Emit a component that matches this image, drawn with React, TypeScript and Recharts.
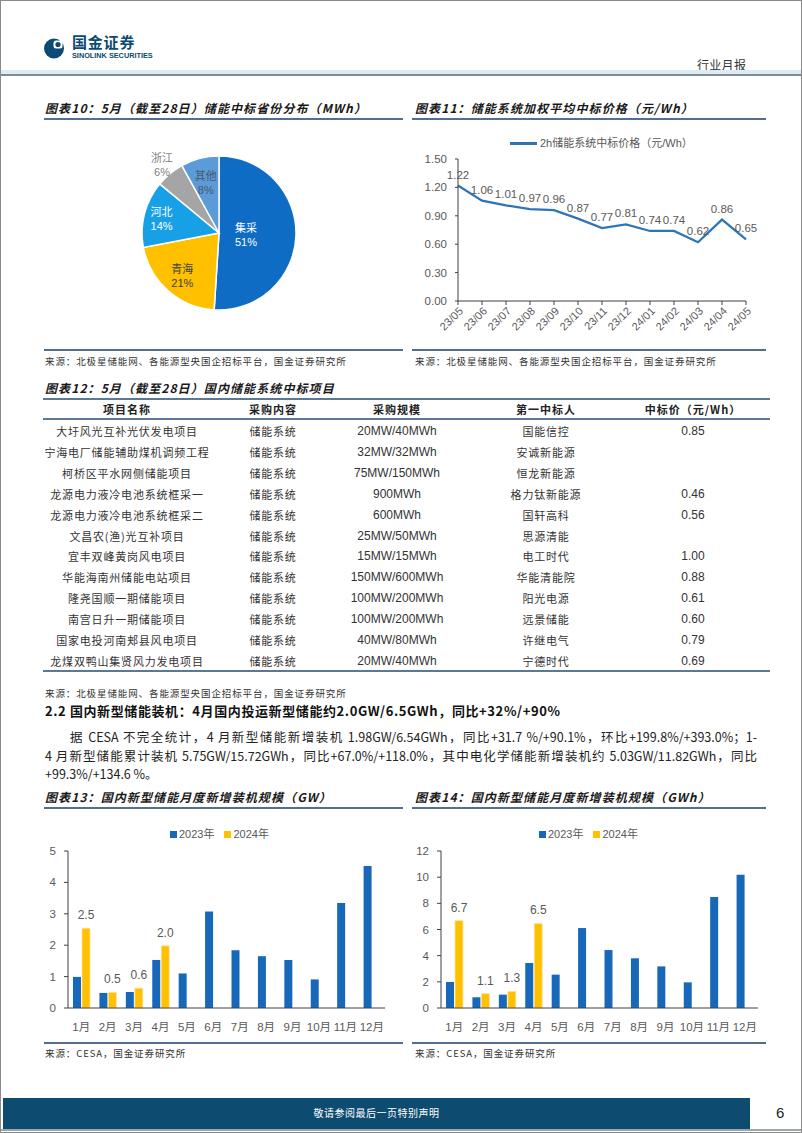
import React from 'react';
import { PieChart, Pie, Cell, LineChart, Line, XAxis, YAxis, LabelList, BarChart, Bar } from 'recharts';

// ---------- data ----------
const pieNames = ['集采', '青海', '河北', '浙江', '其他'];
const pieValues = [51, 21, 14, 6, 8];

const priceMonths = ['23/05', '23/06', '23/07', '23/08', '23/09', '23/10', '23/11', '23/12', '24/01', '24/02', '24/03', '24/04', '24/05'];
const priceValues = [1.22, 1.06, 1.01, 0.97, 0.96, 0.87, 0.77, 0.81, 0.74, 0.74, 0.62, 0.86, 0.65];
const priceTicks = [0, 0.3, 0.6, 0.9, 1.2, 1.5];

const months = ['1月', '2月', '3月', '4月', '5月', '6月', '7月', '8月', '9月', '10月', '11月', '12月'];
const gw2023 = [0.99, 0.48, 0.51, 1.53, 1.1, 3.07, 1.84, 1.65, 1.53, 0.91, 3.34, 4.52];
const gw2024 = [2.54, 0.5, 0.63, 1.98];
const gwTicks = [0, 1, 2, 3, 4, 5];
const gwh2023 = [1.99, 0.82, 1.02, 3.44, 2.55, 6.11, 4.43, 3.8, 3.18, 1.96, 8.48, 10.19];
const gwh2024 = [6.68, 1.1, 1.27, 6.46];
const gwhTicks = [0, 2, 4, 6, 8, 10, 12];

const tableHeaders = ['项目名称', '采购内容', '采购规模', '第一中标人', '中标价（元/Wh）'];
const projectNames = ['大圩风光互补光伏发电项目', '宁海电厂储能辅助煤机调频工程', '柯桥区平水网侧储能项目', '龙源电力液冷电池系统框采一', '龙源电力液冷电池系统框采二', '文昌农(渔)光互补项目', '宜丰双峰黄岗风电项目', '华能海南州储能电站项目', '隆尧国顺一期储能项目', '南宫日升一期储能项目', '国家电投河南郏县风电项目', '龙煤双鸭山集贤风力发电项目'];
const purchaseContent = ['储能系统', '储能系统', '储能系统', '储能系统', '储能系统', '储能系统', '储能系统', '储能系统', '储能系统', '储能系统', '储能系统', '储能系统'];
const purchaseScale = ['20MW/40MWh', '32MW/32MWh', '75MW/150MWh', '900MWh', '600MWh', '25MW/50MWh', '15MW/15MWh', '150MW/600MWh', '100MW/200MWh', '100MW/200MWh', '40MW/80MWh', '20MW/40MWh'];
const winners = ['国能信控', '安诚新能源', '恒龙新能源', '格力钛新能源', '国轩高科', '思源清能', '电工时代', '华能清能院', '阳光电源', '远景储能', '许继电气', '宁德时代'];
const winPrices = ['0.85', '', '', '0.46', '0.56', '', '1.00', '0.88', '0.61', '0.60', '0.79', '0.69'];

// ---------- styles ----------
const pieColors = ['#0F6CC4', '#FFC000', '#17A0E6', '#A5A5A5', '#5B9BD8'];
const pieLabelColors = ['#ffffff', '#404040', '#ffffff', '#7f7f7f', '#4a5868'];
const pieLabelRadius = [0.35, 0.72, 0.77, 1.16, 0.69];
const BLUE = '#1868BA';
const YELLOW = '#FFC000';
const LINE_BLUE = '#2E75B6';
const RULE = '#52708D';
const CJK = "'Noto Sans CJK SC', 'Noto Sans', sans-serif";
const NUM = "'Liberation Sans', 'Noto Sans CJK SC', sans-serif";

const pieData = pieNames.map((n, i) => ({ name: n, value: pieValues[i] }));
const priceData = priceMonths.map((m, i) => ({ month: m, price: priceValues[i] }));
const gwData = months.map((m, i) => ({ month: m, y2023: gw2023[i], y2024: i < gw2024.length ? gw2024[i] : null }));
const gwhData = months.map((m, i) => ({ month: m, y2023: gwh2023[i], y2024: i < gwh2024.length ? gwh2024[i] : null }));

const abs = (x: number, y: number, extra: React.CSSProperties = {}): React.CSSProperties => ({
  position: 'absolute', left: x, top: y, whiteSpace: 'nowrap', ...extra,
});

function Title({ x, y, text }: { x: number; y: number; text: string }) {
  return (
    <div style={abs(x, y - 8, { fontSize: 12, lineHeight: '16px', fontWeight: 700, fontStyle: 'italic', letterSpacing: 1.1, color: '#1a1a1a', fontFamily: CJK })}>
      {text}
    </div>
  );
}
function Rule({ x1, x2, y, w = 1.5, color = RULE }: { x1: number; x2: number; y: number; w?: number; color?: string }) {
  return <div style={{ position: 'absolute', left: x1, top: y - w / 2, width: x2 - x1, height: w, background: color }} />;
}
function Source({ x, y, text }: { x: number; y: number; text: string }) {
  return (
    <div style={abs(x, y - 7, { fontSize: 9.5, lineHeight: '14px', letterSpacing: 0.9, color: '#333', fontFamily: CJK })}>{text}</div>
  );
}

const RAD = Math.PI / 180;
function pieLabel(props: any) {
  const { cx, cy, midAngle, outerRadius, name } = props;
  const i = pieNames.indexOf(name ?? props.payload?.name);
  const r = outerRadius * pieLabelRadius[i];
  const x = cx + r * Math.cos(-midAngle * RAD);
  const y = cy + r * Math.sin(-midAngle * RAD);
  return (
    <text x={x} y={y} textAnchor="middle" fill={pieLabelColors[i]} fontSize={11} fontFamily={NUM}>
      <tspan x={x} dy={-2}>{pieNames[i]}</tspan>
      <tspan x={x} dy={14}>{pieValues[i]}%</tspan>
    </text>
  );
}

function RotTick(props: any) {
  const { x, y, payload } = props;
  return (
    <g transform={`translate(${x + 3},${y + 2})`}>
      <text x={0} y={0} dy="0.35em" textAnchor="end" transform="rotate(-45)" fill="#595959" fontSize={11} fontFamily={NUM}>
        {payload.value}
      </text>
    </g>
  );
}

function Bars({ data, ticks, max, yWidth, right }: { data: any[]; ticks: number[]; max: number; yWidth: number; right: number }) {
  return (
    <BarChart width={360} height={200} data={data} margin={{ top: 11, right, left: 0, bottom: 0 }} barSize={8} barGap={1}>
      <XAxis dataKey="month" interval={0} height={32} axisLine={{ stroke: '#404040' }} tickLine={false}
        tick={{ fill: '#595959', fontSize: 11.5, fontFamily: NUM }} tickMargin={9} />
      <YAxis domain={[0, max]} ticks={ticks} width={yWidth} axisLine={{ stroke: '#404040' }}
        tickLine={{ stroke: '#404040' }} tickSize={4} tickMargin={8}
        tick={{ fill: '#595959', fontSize: 11.5, fontFamily: NUM }} />
      <Bar dataKey="y2023" fill={BLUE} isAnimationActive={false} />
      <Bar dataKey="y2024" fill={YELLOW} stroke="#FBE3A8" strokeWidth={0.8} isAnimationActive={false}>
        <LabelList dataKey="y2024" position="top" offset={9} fill="#595959" fontSize={12} fontFamily={NUM}
          formatter={(v: any) => (v == null ? '' : Number(v).toFixed(1))} />
      </Bar>
    </BarChart>
  );
}

function BarLegend({ cx, y }: { cx: number; y: number }) {
  return (
    <div style={abs(cx - 52, y - 8, { display: 'flex', alignItems: 'center', fontSize: 11, lineHeight: '16px', color: '#595959', fontFamily: NUM })}>
      <span style={{ width: 7, height: 7, background: BLUE, display: 'inline-block', marginRight: 2 }} />
      <span style={{ marginRight: 10 }}>2023年</span>
      <span style={{ width: 7, height: 7, background: YELLOW, display: 'inline-block', marginRight: 2 }} />
      <span>2024年</span>
    </div>
  );
}

const colCenters = [127, 273, 397, 546, 693];

export default function App() {
  return (
    <div style={{ position: 'absolute', left: 0, top: 0, width: 802, height: 1133, background: '#fff', overflow: 'hidden', fontFamily: CJK }}>
      {/* page frame */}
      <div style={{ position: 'absolute', left: 0, top: 0, width: 800, height: 1131, border: '1px solid #8a8a8a' }} />

      {/* header */}
      <svg style={{ position: 'absolute', left: 43, top: 37 }} width={24} height={24}>
        <circle cx={11} cy={11.5} r={10} fill="#0B4A72" />
        <rect x={10.5} y={3.5} width={9} height={8} rx={2.5} fill="#fff" />
        <circle cx={15} cy={7.5} r={2.6} fill="#0B4A72" />
      </svg>
      <div style={abs(72, 34, { fontSize: 15, fontWeight: 700, lineHeight: '16px', color: '#0B4A72', letterSpacing: 0.8 })}>国金证券</div>
      <div style={abs(72, 52, { fontSize: 7.3, fontWeight: 700, lineHeight: '7px', color: '#0B4A72', fontFamily: NUM })}>SINOLINK SECURITIES</div>
      <div style={abs(697, 57, { fontSize: 12, lineHeight: '16px', color: '#333', letterSpacing: 0.3 })}>行业月报</div>
      <div style={{ position: 'absolute', left: 1, top: 70, width: 800, height: 4, background: '#DCEBF4' }} />
      <div style={{ position: 'absolute', left: 1, top: 74, width: 800, height: 2, background: '#7E8A94' }} />

      {/* chart 10 pie */}
      <Title x={45} y={108} text="图表10：5月（截至28日）储能中标省份分布（MWh）" />
      <Rule x1={44} x2={403} y={119} />
      <div style={{ position: 'absolute', left: 30, top: 125, width: 380, height: 220 }}>
        <PieChart width={380} height={220} margin={{ top: 0, right: 0, bottom: 0, left: 0 }}>
          <Pie data={pieData} dataKey="value" nameKey="name" cx={189} cy={108} outerRadius={77} startAngle={90} endAngle={-270}
            stroke="#ffffff" strokeWidth={1.5} labelLine={false} label={pieLabel} isAnimationActive={false}>
            {pieData.map((d, i) => <Cell key={d.name} fill={pieColors[i]} />)}
          </Pie>
        </PieChart>
      </div>
      <Rule x1={44} x2={403} y={350} />
      <Source x={45} y={361} text="来源：北极星储能网、各能源型央国企招标平台，国金证券研究所" />

      {/* chart 11 line */}
      <Title x={415} y={108} text="图表11：储能系统加权平均中标价格（元/Wh）" />
      <Rule x1={412} x2={766} y={119} />
      <div style={{ position: 'absolute', left: 510, top: 142, width: 27, height: 2.5, background: LINE_BLUE }} />
      <div style={abs(540, 135, { fontSize: 11, lineHeight: '16px', color: '#595959', fontFamily: NUM })}>2h储能系统中标价格（元/Wh）</div>
      <div style={{ position: 'absolute', left: 410, top: 130, width: 360, height: 220 }}>
        <LineChart width={360} height={220} data={priceData} margin={{ top: 29, right: 24, left: 0, bottom: 0 }}>
          <XAxis dataKey="month" scale="point" padding={{ left: 0, right: 0 }} interval={0} height={49}
            axisLine={{ stroke: '#404040' }} tickLine={{ stroke: '#404040' }} tickSize={4} tick={<RotTick />} />
          <YAxis domain={[0, 1.5]} ticks={priceTicks} width={48} axisLine={{ stroke: '#404040' }}
            tickLine={{ stroke: '#404040' }} tickSize={3} tickMargin={8}
            tickFormatter={(v: number) => v.toFixed(2)} tick={{ fill: '#595959', fontSize: 11.5, fontFamily: NUM }} />
          <Line type="linear" dataKey="price" stroke={LINE_BLUE} strokeWidth={2.2} dot={false} isAnimationActive={false}>
            <LabelList dataKey="price" position="top" offset={7} fill="#595959" fontSize={11.5} fontFamily={NUM}
              formatter={(v: any) => Number(v).toFixed(2)} />
          </Line>
        </LineChart>
      </div>
      <Rule x1={412} x2={766} y={350} />
      <Source x={415} y={361} text="来源：北极星储能网、各能源型央国企招标平台，国金证券研究所" />

      {/* table 12 */}
      <Title x={45} y={388} text="图表12：5月（截至28日）国内储能系统中标项目" />
      <Rule x1={43} x2={770} y={399} w={2} color="#5B7997" />
      <div style={{ position: 'absolute', left: 0, top: 399, width: 802, height: 20 }}>
        {tableHeaders.map((h, c) => (
          <div key={h} style={abs(colCenters[c] - 100, 1, { width: 200, textAlign: 'center', fontSize: 11, lineHeight: '18px', fontWeight: 700, letterSpacing: 1, color: '#222' })}>{h}</div>
        ))}
      </div>
      <Rule x1={43} x2={770} y={419} w={1.5} color="#5B7997" />
      {projectNames.map((p, r) => {
        const top = 431 + 20.9 * r - 10;
        const cells = [p, purchaseContent[r], purchaseScale[r], winners[r], winPrices[r]];
        return (
          <div key={p} style={{ position: 'absolute', left: 0, top, width: 802, height: 20 }}>
            {cells.map((v, c) => (
              <div key={c} style={abs(colCenters[c] - 100, 0, {
                width: 200, textAlign: 'center', lineHeight: '20px', color: '#333',
                fontSize: c === 2 || c === 4 ? 12 : 11, letterSpacing: c === 2 || c === 4 ? 0 : 0.8,
                fontFamily: c === 2 || c === 4 ? NUM : CJK,
              })}>{v}</div>
            ))}
          </div>
        );
      })}
      <Rule x1={43} x2={770} y={671} w={2} color="#5B7997" />
      <Source x={45} y={693} text="来源：北极星储能网、各能源型央国企招标平台，国金证券研究所" />

      {/* section text */}
      <div style={abs(45, 702, { fontSize: 13, lineHeight: '18px', fontWeight: 700, color: '#111', letterSpacing: 0.6 })}>
        2.2 国内新型储能装机：4月国内投运新型储能约2.0GW/6.5GWh，同比+32%/+90%
      </div>
      <div style={abs(70, 728, { width: 687, fontSize: 12.5, lineHeight: '18px', color: '#222', textAlign: 'justify', textAlignLast: 'justify' as any })}>
        据 CESA 不完全统计，4 月新型储能新增装机 1.98GW/6.54GWh，同比+31.7 %/+90.1%，环比+199.8%/+393.0%；1-
      </div>
      <div style={abs(45, 747, { width: 712, fontSize: 12.5, lineHeight: '18px', color: '#222', textAlign: 'justify', textAlignLast: 'justify' as any })}>
        4 月新型储能累计装机 5.75GW/15.72GWh，同比+67.0%/+118.0%，其中电化学储能新增装机约 5.03GW/11.82GWh，同比
      </div>
      <div style={abs(45, 765, { fontSize: 12.5, lineHeight: '18px', color: '#222' })}>+99.3%/+134.6 %。</div>

      {/* chart 13 */}
      <Title x={45} y={797} text="图表13：国内新型储能月度新增装机规模（GW）" />
      <Rule x1={44} x2={403} y={808} />
      <BarLegend cx={222} y={834} />
      <div style={{ position: 'absolute', left: 30, top: 840, width: 360, height: 200 }}>
        <Bars data={gwData} ticks={gwTicks} max={5} yWidth={38} right={5} />
      </div>
      <Rule x1={44} x2={403} y={1043} />
      <Source x={45} y={1053} text="来源：CESA，国金证券研究所" />

      {/* chart 14 */}
      <Title x={415} y={797} text="图表14：国内新型储能月度新增装机规模（GWh）" />
      <Rule x1={412} x2={766} y={808} />
      <BarLegend cx={591} y={834} />
      <div style={{ position: 'absolute', left: 410, top: 840, width: 360, height: 200 }}>
        <Bars data={gwhData} ticks={gwhTicks} max={12} yWidth={31} right={12} />
      </div>
      <Rule x1={412} x2={766} y={1043} />
      <Source x={415} y={1053} text="来源：CESA，国金证券研究所" />

      {/* footer */}
      <div style={{ position: 'absolute', left: 3, top: 1098, width: 747, height: 31, background: '#0D4B70' }} />
      <div style={abs(3, 1106, { width: 747, textAlign: 'center', fontSize: 10, lineHeight: '14px', color: '#fff', letterSpacing: 0.5 })}>敬请参阅最后一页特别声明</div>
      <div style={abs(776, 1104, { fontSize: 15, lineHeight: '18px', color: '#222', fontFamily: NUM })}>6</div>
      <div style={{ position: 'absolute', left: 1, top: 1129, width: 800, height: 2, background: '#9aa5ad' }} />
    </div>
  );
}
